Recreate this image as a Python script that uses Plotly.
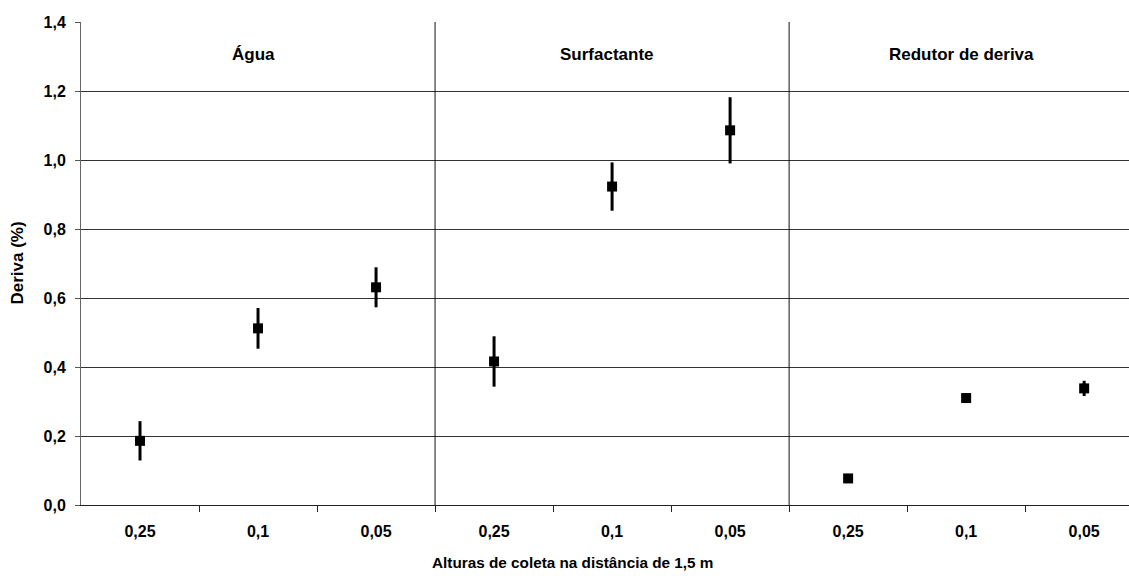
import plotly.graph_objects as go

groups = ["Água", "Surfactante", "Redutor de deriva"]
heights = ["0,25", "0,1", "0,05"]
means = {
    "Água": [0.186, 0.512, 0.631],
    "Surfactante": [0.416, 0.923, 1.086],
    "Redutor de deriva": [0.077, 0.310, 0.338],
}
errors = {
    "Água": [0.057, 0.059, 0.058],
    "Surfactante": [0.073, 0.070, 0.096],
    "Redutor de deriva": [0.006, 0.006, 0.022],
}
y_ticks = [0.0, 0.2, 0.4, 0.6, 0.8, 1.0, 1.2, 1.4]
y_ticktext = ["0,0", "0,2", "0,4", "0,6", "0,8", "1,0", "1,2", "1,4"]
x_title = "Alturas de coleta na distância de 1,5 m"
y_title = "Deriva (%)"

FONT = "Arial, 'Liberation Sans', sans-serif"
n = len(heights)
fig = go.Figure()
for gi, g in enumerate(groups):
    xs = [gi * n + i for i in range(n)]
    fig.add_trace(go.Scatter(
        x=xs, y=means[g], mode="markers",
        marker=dict(symbol="square", size=10, color="black"),
        error_y=dict(type="data", array=errors[g], visible=True,
                     color="black", thickness=3, width=0),
        showlegend=False, cliponaxis=False, hoverinfo="skip",
    ))
    fig.add_annotation(x=gi * n + (n - 1) / 2 - 0.04, y=1.305, xref="x", yref="y",
                       text=f"<b>{g}</b>", showarrow=False,
                       font=dict(family=FONT, size=17, color="black"))

# group dividers
for gi in range(1, len(groups)):
    fig.add_shape(type="line", xref="x", yref="y",
                  x0=gi * n - 0.5, x1=gi * n - 0.5, y0=0, y1=1.4,
                  line=dict(color="#111", width=1), layer="above")

all_x = list(range(n * len(groups)))
all_labels = heights * len(groups)

fig.update_layout(
    width=1129, height=576,
    margin=dict(l=81, r=0, t=22, b=71, autoexpand=False),
    paper_bgcolor="white", plot_bgcolor="white",
    font=dict(family=FONT, color="black"),
    xaxis=dict(
        range=[-0.5, 8.38], tickmode="array", tickvals=all_x,
        ticktext=[f"<b>{t}</b>" for t in all_labels],
        ticks="outside", ticklen=0, ticklabelstandoff=12,
        tickfont=dict(family=FONT, size=16, color="black"),
        showgrid=False, zeroline=False,
        showline=True, linecolor="#222", linewidth=1,
        minor=dict(tickmode="array",
                   tickvals=[i + 0.5 for i in range(len(all_x) - 1)],
                   ticks="outside", ticklen=6, tickcolor="#222", tickwidth=1,
                   showgrid=False),
        fixedrange=True,
    ),
    yaxis=dict(
        range=[0, 1.4], tickmode="array", tickvals=y_ticks,
        ticktext=[f"<b>{t}</b>" for t in y_ticktext],
        ticks="outside", ticklen=5, tickcolor="#555", tickwidth=1,
        ticklabelstandoff=6,
        tickfont=dict(family=FONT, size=16, color="black"),
        showgrid=True, gridcolor="#333", gridwidth=1,
        zeroline=False, showline=True, linecolor="#666", linewidth=1,
        fixedrange=True,
    ),
)

fig.add_annotation(x=(572 - 81) / 1048, y=-0.12, xref="paper", yref="paper",
                   text=f"<b>{x_title}</b>", showarrow=False,
                   xanchor="center", yanchor="middle",
                   font=dict(family=FONT, size=15.3, color="black"))
fig.add_annotation(x=-0.061, y=0.5, xref="paper", yref="paper",
                   text=f"<b>{y_title}</b>", showarrow=False, textangle=-90,
                   xanchor="center", yanchor="middle",
                   font=dict(family=FONT, size=17, color="black"))

fig.write_html("out.html", config={"displayModeBar": False},
               post_script="document.body.style.margin='0';document.body.style.padding='0';")
